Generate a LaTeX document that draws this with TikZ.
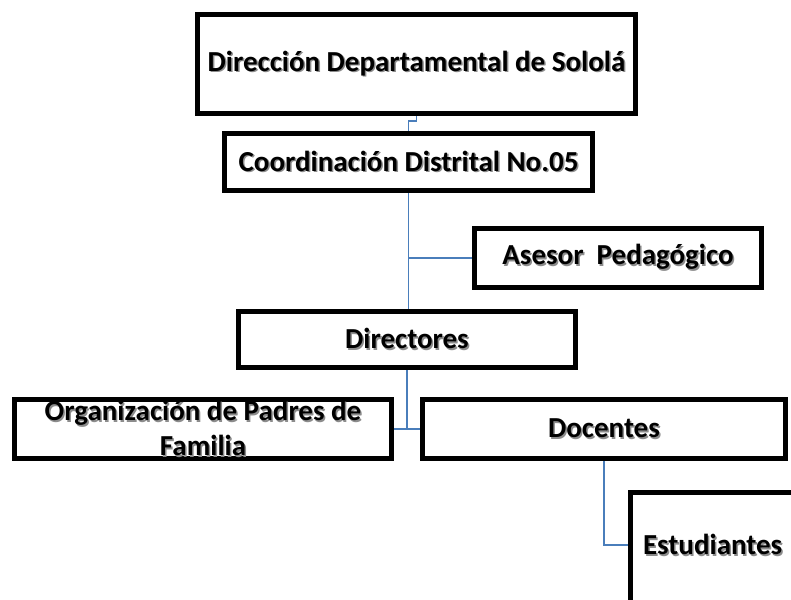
\documentclass[tikz,border=0pt]{standalone}
\usepackage{fontspec}
\setmainfont{Carlito}
\definecolor{connblue}{RGB}{74,126,187}
\newcommand{\sh}[1]{\makebox[0pt][l]{\hspace{1.5pt}\raisebox{-1.5pt}{\textcolor{black!45}{#1}}}#1}
\tikzset{
  orgbox/.style={draw=black, line width=5pt, fill=white, rectangle, inner sep=0pt, align=center,
    font=\bfseries\fontsize{29}{35}\selectfont},
  conn/.style={draw=connblue, line width=1.5pt}
}
\begin{document}
\begin{tikzpicture}[x=1pt,y=-1pt]
\useasboundingbox (0,0) rectangle (791,599);
\clip (0,0) rectangle (791,599);
\node[orgbox, minimum width=438pt, minimum height=99pt] (b1) at (416.5,64) {\sh{Dirección Departamental de Sololá}};
\node[orgbox, minimum width=368pt, minimum height=57pt] (b2) at (408.5,162) {\sh{Coordinación Distrital No.05}};
\node[orgbox, minimum width=287pt, minimum height=59pt] (ase) at (618,258) {\sh{Asesor~ Pedagógico}};
\node[orgbox, minimum width=337pt, minimum height=56pt] (dir) at (407,339.5) {\sh{Directores}};
\node[orgbox, minimum width=377pt, minimum height=59pt] (org) at (203,429) {\sh{Organización de Padres de}\\\sh{Familia}};
\node[orgbox, minimum width=363pt, minimum height=59pt] (doc) at (604,429) {\sh{Docentes}};
\node[orgbox, anchor=north west, text width=185pt, align=left, inner xsep=13pt, minimum height=120pt] (est) at (627.5,489.5) {\raisebox{-2.8pt}[0pt][0pt]{\sh{Estudiantes}}};
\draw[conn] (b1.south) -- ++(0,5) -| (b2.north);
\draw[conn] (b2.south) -- (b2.south |- dir.north);
\draw[conn] (b2.south |- ase.west) -- (ase.west);
\draw[conn] (dir.south) -- (dir.south |- org.east);
\draw[conn] (org.east) -- (doc.west);
\draw[conn] (doc.south) -- (doc.south |- 0,545) -- (est.west |- 0,545);
\end{tikzpicture}
\end{document}
